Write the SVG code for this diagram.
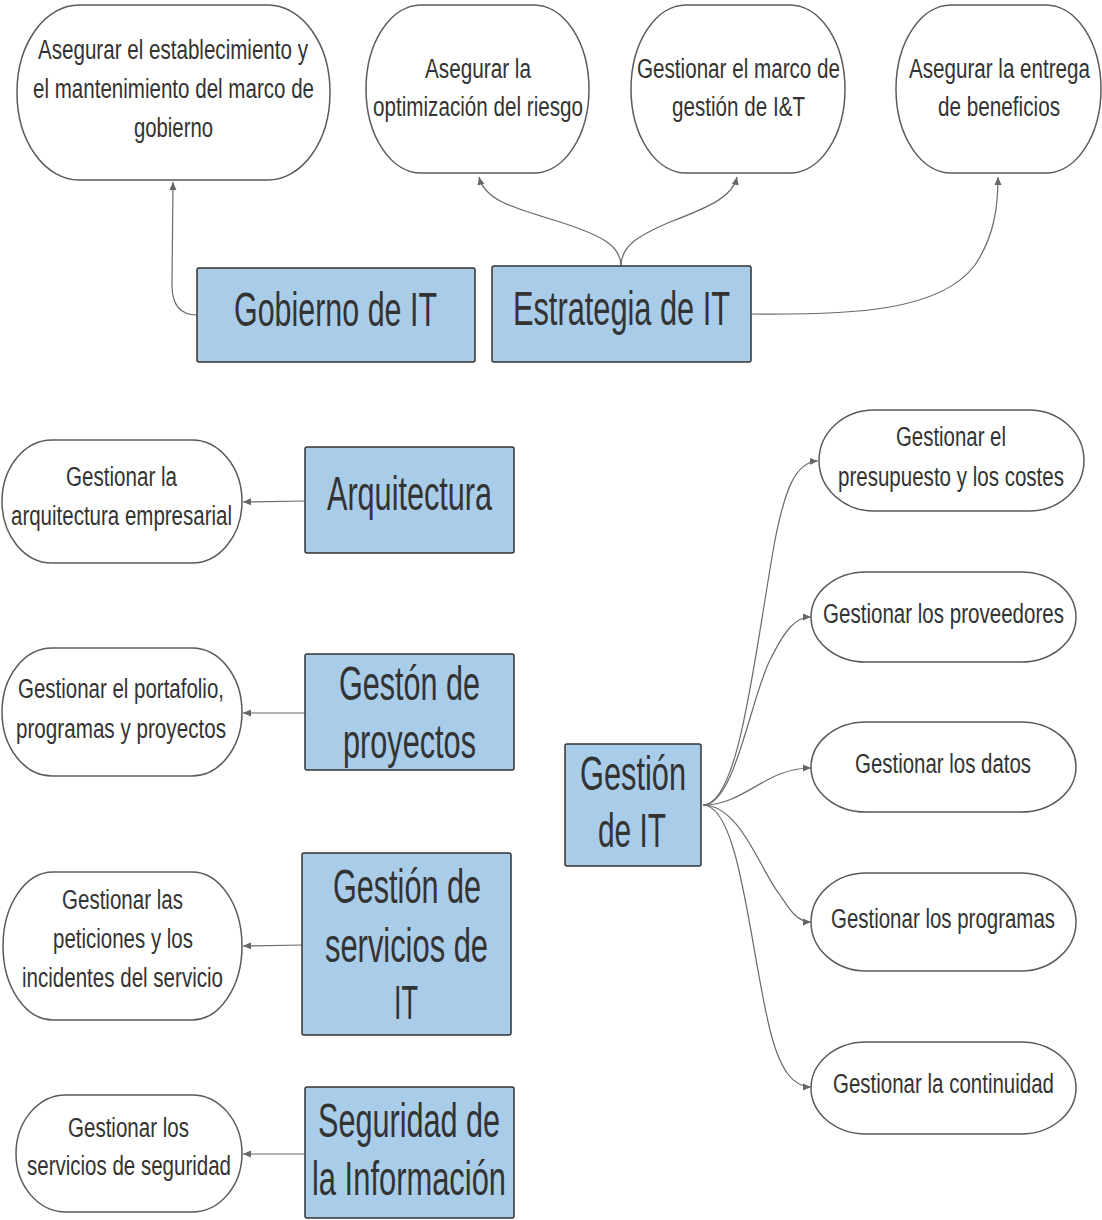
<svg xmlns="http://www.w3.org/2000/svg" width="1102" height="1220" viewBox="0 0 1102 1220">
<style>
.bg{fill:#ffffff}
.term{fill:#ffffff;stroke:#5a5a5a;stroke-width:1.5}
.box{fill:#a9cce9;stroke:#333333;stroke-width:1.5}
.s{font-family:"Liberation Sans",Arial,sans-serif;font-size:27px;fill:#333333}
.b{font-family:"Liberation Sans",Arial,sans-serif;font-size:48px;fill:#333333}
.c{fill:none;stroke:#6a6a6a;stroke-width:1.2;marker-end:url(#arr)}
</style>
<defs>
<marker id="arr" markerUnits="userSpaceOnUse" markerWidth="9" markerHeight="8" refX="8" refY="4" orient="auto">
<path d="M0,0.5 L8,4 L0,7.5 z" fill="#666666"/>
</marker>
</defs>
<rect class="bg" x="0" y="0" width="1102" height="1220"/>

<g id="connectors">
<path class="c" d="M197,315 C180,315 172,305 172,285 L173,182"/>
<path class="c" d="M621,266 C621,245 600,235 560,222 C510,207 485,200 479,177"/>
<path class="c" d="M621,266 C621,245 640,235 670,222 C715,205 733,195 737,177"/>
<path class="c" d="M751,314 C850,315 940,312 975,265 C995,235 998,205 998,177"/>
<path class="c" d="M305,501 L243,502"/>
<path class="c" d="M305,713 L243,713"/>
<path class="c" d="M302,945 L243,946"/>
<path class="c" d="M305,1154 L243,1154"/>
<path class="c" d="M703,805 C740,805 755,650 775,540 C785,490 795,462 818,461"/>
<path class="c" d="M703,805 C735,805 750,700 770,660 C785,630 795,617 811,617"/>
<path class="c" d="M703,805 C745,805 765,768 811,768"/>
<path class="c" d="M703,805 C740,805 760,870 780,895 C790,910 797,922 811,922"/>
<path class="c" d="M703,805 C740,805 750,950 770,1030 C780,1070 793,1087 811,1087"/>
</g>

<g id="n1"><rect class="term" x="17" y="5" width="313" height="175" rx="62" ry="87"/>
<text class="s" x="38" y="59" textLength="270" lengthAdjust="spacingAndGlyphs">Asegurar el establecimiento y</text>
<text class="s" x="33" y="98" textLength="281" lengthAdjust="spacingAndGlyphs">el mantenimiento del marco de</text>
<text class="s" x="134" y="137" textLength="79" lengthAdjust="spacingAndGlyphs">gobierno</text></g>

<g id="n2"><rect class="term" x="366" y="5" width="223" height="168" rx="55" ry="84"/>
<text class="s" x="425" y="78" textLength="106" lengthAdjust="spacingAndGlyphs">Asegurar la</text>
<text class="s" x="373" y="116" textLength="210" lengthAdjust="spacingAndGlyphs">optimización del riesgo</text></g>

<g id="n3"><rect class="term" x="631" y="5" width="214" height="168" rx="55" ry="84"/>
<text class="s" x="637" y="78" textLength="203" lengthAdjust="spacingAndGlyphs">Gestionar el marco de</text>
<text class="s" x="672" y="116" textLength="133" lengthAdjust="spacingAndGlyphs">gestión de I&amp;T</text></g>

<g id="n4"><rect class="term" x="896" y="5" width="205" height="168" rx="55" ry="84"/>
<text class="s" x="909" y="78" textLength="181" lengthAdjust="spacingAndGlyphs">Asegurar la entrega</text>
<text class="s" x="938" y="116" textLength="122" lengthAdjust="spacingAndGlyphs">de beneficios</text></g>

<g id="gobierno"><rect class="box" x="197" y="268" width="278" height="94" rx="2"/>
<text class="b" x="234" y="326" textLength="203" lengthAdjust="spacingAndGlyphs">Gobierno de IT</text></g>

<g id="estrategia"><rect class="box" x="492" y="266" width="259" height="96" rx="2"/>
<text class="b" x="513" y="325" textLength="217" lengthAdjust="spacingAndGlyphs">Estrategia de IT</text></g>

<g id="arquitectura"><rect class="box" x="305" y="447" width="209" height="106" rx="2"/>
<text class="b" x="327" y="510" textLength="165" lengthAdjust="spacingAndGlyphs">Arquitectura</text></g>

<g id="proyectos"><rect class="box" x="305" y="654" width="209" height="116" rx="2"/>
<text class="b" x="339" y="700" textLength="141" lengthAdjust="spacingAndGlyphs">Gestón de</text>
<text class="b" x="343" y="758" textLength="133" lengthAdjust="spacingAndGlyphs">proyectos</text></g>

<g id="servicios"><rect class="box" x="302" y="853" width="209" height="182" rx="2"/>
<text class="b" x="333" y="903" textLength="148" lengthAdjust="spacingAndGlyphs">Gestión de</text>
<text class="b" x="325" y="962" textLength="163" lengthAdjust="spacingAndGlyphs">servicios de</text>
<text class="b" x="394" y="1019" textLength="24" lengthAdjust="spacingAndGlyphs">IT</text></g>

<g id="seguridad"><rect class="box" x="305" y="1087" width="209" height="131" rx="2"/>
<text class="b" x="318" y="1137" textLength="182" lengthAdjust="spacingAndGlyphs">Seguridad de</text>
<text class="b" x="312" y="1195" textLength="194" lengthAdjust="spacingAndGlyphs">la Información</text></g>

<g id="gestion"><rect class="box" x="565" y="744" width="136" height="122" rx="2"/>
<text class="b" x="580" y="790" textLength="106" lengthAdjust="spacingAndGlyphs">Gestión</text>
<text class="b" x="598" y="847" textLength="68" lengthAdjust="spacingAndGlyphs">de IT</text></g>

<g id="l1"><rect class="term" x="2" y="440" width="240" height="123" rx="50" ry="61.5"/>
<text class="s" x="66" y="486" textLength="111" lengthAdjust="spacingAndGlyphs">Gestionar la</text>
<text class="s" x="11" y="525" textLength="221" lengthAdjust="spacingAndGlyphs">arquitectura empresarial</text></g>

<g id="l2"><rect class="term" x="2" y="648" width="240" height="128" rx="50" ry="64"/>
<text class="s" x="18" y="698" textLength="206" lengthAdjust="spacingAndGlyphs">Gestionar el portafolio,</text>
<text class="s" x="16" y="738" textLength="210" lengthAdjust="spacingAndGlyphs">programas y proyectos</text></g>

<g id="l3"><rect class="term" x="3" y="872" width="239" height="148" rx="50" ry="74"/>
<text class="s" x="62" y="909" textLength="121" lengthAdjust="spacingAndGlyphs">Gestionar las</text>
<text class="s" x="53" y="948" textLength="140" lengthAdjust="spacingAndGlyphs">peticiones y los</text>
<text class="s" x="22" y="987" textLength="201" lengthAdjust="spacingAndGlyphs">incidentes del servicio</text></g>

<g id="l4"><rect class="term" x="16" y="1095" width="226" height="117" rx="50" ry="58.5"/>
<text class="s" x="68" y="1137" textLength="121" lengthAdjust="spacingAndGlyphs">Gestionar los</text>
<text class="s" x="27" y="1175" textLength="204" lengthAdjust="spacingAndGlyphs">servicios de seguridad</text></g>

<g id="r1"><rect class="term" x="819" y="410" width="265" height="101" rx="55" ry="50.5"/>
<text class="s" x="896" y="446" textLength="110" lengthAdjust="spacingAndGlyphs">Gestionar el</text>
<text class="s" x="838" y="486" textLength="226" lengthAdjust="spacingAndGlyphs">presupuesto y los costes</text></g>

<g id="r2"><rect class="term" x="811" y="572" width="265" height="90" rx="55" ry="45"/>
<text class="s" x="823" y="623" textLength="241" lengthAdjust="spacingAndGlyphs">Gestionar los proveedores</text></g>

<g id="r3"><rect class="term" x="811" y="722" width="265" height="90" rx="55" ry="45"/>
<text class="s" x="855" y="773" textLength="176" lengthAdjust="spacingAndGlyphs">Gestionar los datos</text></g>

<g id="r4"><rect class="term" x="811" y="873" width="265" height="98" rx="55" ry="49"/>
<text class="s" x="831" y="928" textLength="224" lengthAdjust="spacingAndGlyphs">Gestionar los programas</text></g>

<g id="r5"><rect class="term" x="811" y="1042" width="265" height="92" rx="55" ry="46"/>
<text class="s" x="833" y="1093" textLength="221" lengthAdjust="spacingAndGlyphs">Gestionar la continuidad</text></g>
</svg>
